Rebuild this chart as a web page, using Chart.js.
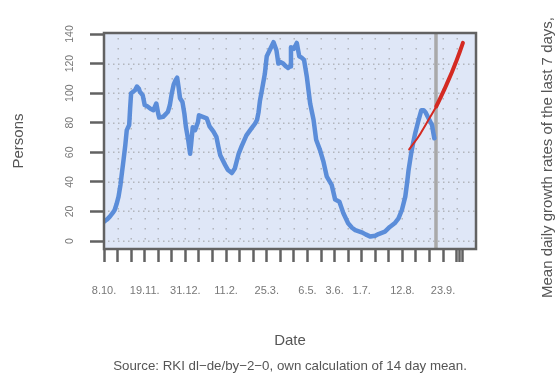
<!DOCTYPE html>
<html>
<head>
<meta charset="utf-8">
<title>Persons</title>
<script src="https://cdn.jsdelivr.net/npm/chart.js@4.4.0/dist/chart.umd.min.js"></script>
<style>
  body { margin:0; background:#fff; }
  #chart { display:block; }
</style>
</head>
<body>
<canvas id="chart" width="558" height="378"></canvas>
<script>
// days since 8.10. (2020) and the 14 day mean
var blueDays = [0,3,6,9,11,13,15,17,18,20,22,23.5,26,27,28,30,32,34,36,37,40,42,45,48,51,54,56,57,61,64,66,68,70,72,74,75.5,77,78.5,81,83,84.6,87,88.9,90,91.6,94,97,98,102,106,109,113,116,118,120,125,128,132,135,139,142,147,152,156,158,159.5,161,163,166,168,171,175,178,180,182,185,188,190,192,193,196,199,201.5,204,206.5,209.4,212.8,216.3,219,223,226.6,230,235,238.6,243,247,252,256,259.4,266,270,275,280,283.4,290,295,300,304,307.5,311,313,314.4,317,319,321.3,324.8,327.6,330,332,335,338.6,340,341];
var blueValues = [13,14.5,16.5,19,21,25,30,38,43.5,54,65,75,78.5,90,100,101,102,104.5,103,101,98.5,92,91,89.5,88.5,93,86,83.5,84,86,87.5,92,100,106,109,110.5,104,96.5,94,86,77,68,59,66,77,75,80.5,85,84,83,77.5,74,70.5,64,58,51.5,48,46,49,59,64,71.5,76,79.5,82,87,95,102,113,125,129,134.5,129,120,121,120,118,117,118,131,130,134,125,124,122.5,111,93,82,68.5,61.5,53.5,43.5,38,28,26.5,19,12,9,7.4,5.9,4.5,3,3.5,4.7,6.3,9.5,12,15.3,21,30,40,48,59,66,73,82,88.5,88.5,87,83,78.5,73,69.5];

// projection (red), before and after the last data day
var redDaysA = [315,319,323,327,331,335,339,343];
var redValuesA = [62,65.5,69,73,77.5,82,86.5,91];
var redDaysB = [343,347,351,355,359,363,367,370.5];
var redValuesB = [91,96.5,102,108,114,120.5,127.5,134];

var lastDay = 342.7;

var xTickDays = [0,14,28,42,56,70,84,98,112,126,140,154,168,182,196,210,224,238,252,266,280,294,308,322,336,350,364,367,370];
var xLabelDays = [0,42,84,126,168,210,238,266,308,350];
var xLabels = ['8.10.','19.11.','31.12.','11.2.','25.3.','6.5.','3.6.','1.7.','12.8.','23.9.'];
var yTicks = [0,20,40,60,80,100,120,140];

var FONT = "'Liberation Sans', Arial, sans-serif";

function pts(xs, ys){
  var out = [];
  for (var i = 0; i < xs.length; i++) out.push({x: xs[i], y: ys[i]});
  return out;
}

var decor = {
  id: 'decor',
  beforeDatasetsDraw: function(chart){
    var c = chart.ctx, a = chart.chartArea;
    var xs = chart.scales.x, ys = chart.scales.y;
    c.save();
    c.fillStyle = '#dfe7f7';
    c.fillRect(a.left, a.top, a.right - a.left, a.bottom - a.top);
    // dotted grid
    c.fillStyle = 'rgba(150,150,150,0.6)';
    for (var i = 0; i < xTickDays.length - 2; i++) {
      var px = Math.round(xs.getPixelForValue(xTickDays[i]));
      if (px <= a.left + 2) continue;
      for (var yy = a.top + 5; yy < a.bottom - 2; yy += 10) c.fillRect(px - 0.5, yy, 1.5, 1.5);
    }
    for (var j = 0; j < yTicks.length; j++) {
      var py = Math.round(ys.getPixelForValue(yTicks[j]));
      if (py <= a.top + 2) continue;
      for (var xx = a.left + 4; xx < a.right - 2; xx += 5) c.fillRect(xx, py - 0.5, 1.5, 1.5);
    }
    c.restore();
  },
  afterDatasetsDraw: function(chart){
    var c = chart.ctx, a = chart.chartArea;
    c.save();
    c.strokeStyle = '#626262';
    c.lineWidth = 2.5;
    c.strokeRect(a.left, a.top, a.right - a.left, a.bottom - a.top);
    c.restore();
  },
  afterDraw: function(chart){
    var c = chart.ctx, a = chart.chartArea, ys = chart.scales.y;
    c.save();
    // y tick labels, rotated
    c.fillStyle = '#777';
    c.font = '10.5px ' + FONT;
    c.textAlign = 'center';
    c.textBaseline = 'middle';
    for (var j = 0; j < yTicks.length; j++) {
      c.save();
      c.translate(70, ys.getPixelForValue(yTicks[j]));
      c.rotate(-Math.PI / 2);
      c.fillText(String(yTicks[j]), 0, 0);
      c.restore();
    }
    c.fillStyle = '#555';
    c.font = '15px ' + FONT;
    c.save();
    c.translate(19, (a.top + a.bottom) / 2);
    c.rotate(-Math.PI / 2);
    c.fillText('Persons', 0, 0);
    c.restore();
    c.fillText('Date', (a.left + a.right) / 2, 341);
    c.save();
    c.translate(548, 298);
    c.rotate(-Math.PI / 2);
    c.textAlign = 'left';
    c.fillText('Mean daily growth rates of the last 7 days,', 0, 0);
    c.restore();
    c.font = '13.3px ' + FONT;
    c.fillText('Source: RKI dl\u2212de/by\u22122\u22120, own calculation of 14 day mean.', (a.left + a.right) / 2, 366);
    c.restore();
  }
};

var chart = new Chart(document.getElementById('chart'), {
  type: 'line',
  data: {
    datasets: [
      { data: pts(redDaysB, redValuesB), borderColor: '#d42a22', borderWidth: 4, order: 0 },
      { data: pts(redDaysA, redValuesA), borderColor: '#d42a22', borderWidth: 2, order: 1 },
      { data: pts(blueDays, blueValues), borderColor: '#5b8dd9', borderWidth: 4.5, order: 2 },
      { data: [{x: lastDay, y: -5.4}, {x: lastDay, y: 140.7}], borderColor: '#a9a9a9', borderWidth: 3.5, order: 3 }
    ]
  },
  options: {
    responsive: false,
    animation: false,
    devicePixelRatio: 1,
    layout: { padding: { left: 0, right: 82, top: 33, bottom: 0 } },
    elements: {
      point: { radius: 0 },
      line: { tension: 0, borderJoinStyle: 'round', borderCapStyle: 'round', fill: false }
    },
    plugins: { legend: { display: false }, tooltip: { enabled: false } },
    scales: {
      x: {
        type: 'linear',
        min: 0,
        max: 384,
        afterFit: function(s){ s.height = 129; },
        afterBuildTicks: function(s){ s.ticks = xTickDays.map(function(v){ return {value: v}; }); },
        border: { display: false },
        grid: { drawOnChartArea: false, drawTicks: true, tickLength: 13, tickWidth: 2.5, tickColor: '#626262' },
        ticks: {
          autoSkip: false,
          maxRotation: 0,
          minRotation: 0,
          padding: 22,
          color: '#777',
          font: { size: 11, family: FONT },
          callback: function(v){
            var k = xLabelDays.indexOf(v);
            return k >= 0 ? xLabels[k] : '';
          }
        }
      },
      y: {
        type: 'linear',
        min: -5.4,
        max: 140.7,
        afterFit: function(s){ s.width = 104; },
        afterBuildTicks: function(s){ s.ticks = yTicks.map(function(v){ return {value: v}; }); },
        border: { display: false },
        grid: { drawOnChartArea: false, drawTicks: true, tickLength: 14, tickWidth: 2.5, tickColor: '#626262' },
        ticks: { display: false }
      }
    }
  },
  plugins: [decor]
});
</script>
</body>
</html>
